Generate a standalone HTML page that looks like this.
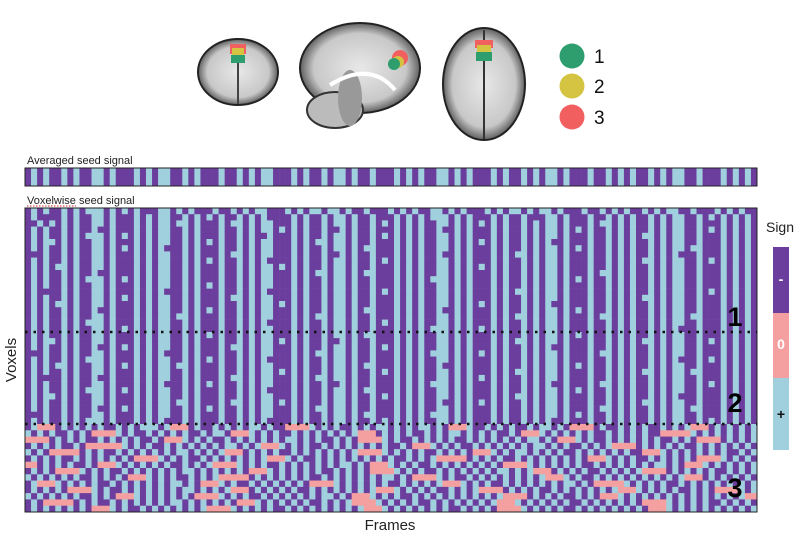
<!DOCTYPE html>
<html><head><meta charset="utf-8"><style>
body{margin:0;background:#fff;width:801px;height:540px;overflow:hidden;font-family:"Liberation Sans",sans-serif}
svg{position:absolute;left:0;top:0}
</style></head><body>
<svg id="fig" width="801" height="540">
<defs>
<radialGradient id="brainG" cx="50%" cy="50%" r="55%"><stop offset="0" stop-color="#e8e8e8"/><stop offset="0.7" stop-color="#c8c8c8"/><stop offset="1" stop-color="#333"/></radialGradient>
</defs>
<g>
<ellipse cx="238" cy="72" rx="40" ry="33" fill="url(#brainG)" stroke="#222" stroke-width="2"/>
<line x1="238" y1="45" x2="238" y2="104" stroke="#444" stroke-width="2"/>
<rect x="230" y="44" width="16" height="10" fill="#f25f5f"/><rect x="232" y="48" width="12" height="8" fill="#d4c442"/><rect x="231" y="55" width="14" height="8" fill="#2e9e6e"/>
</g>
<g>
<ellipse cx="360" cy="68" rx="60" ry="45" fill="url(#brainG)" stroke="#222" stroke-width="2"/>
<ellipse cx="335" cy="110" rx="28" ry="18" fill="#bbb" stroke="#333" stroke-width="2"/>
<ellipse cx="350" cy="98" rx="12" ry="28" fill="#999"/>
<path d="M330,85 Q370,60 395,90" stroke="#fff" stroke-width="4" fill="none"/>
<circle cx="400" cy="58" r="8" fill="#f25f5f"/><circle cx="398" cy="62" r="6" fill="#d4c442"/><circle cx="394" cy="64" r="6" fill="#2e9e6e"/>
</g>
<g>
<ellipse cx="484" cy="84" rx="41" ry="56" fill="url(#brainG)" stroke="#222" stroke-width="2"/>
<line x1="484" y1="30" x2="484" y2="139" stroke="#333" stroke-width="2"/>
<rect x="475" y="40" width="18" height="8" fill="#f25f5f"/><rect x="477" y="45" width="14" height="7" fill="#d4c442"/><rect x="476" y="52" width="16" height="9" fill="#2e9e6e"/>
</g>
<g>
<circle cx="572" cy="56" r="12.5" fill="#2e9e6e"/>
<text x="594" y="63" font-size="19" fill="#111">1</text>
<circle cx="572" cy="86" r="12.5" fill="#d4c442"/>
<text x="594" y="93" font-size="19" fill="#111">2</text>
<circle cx="572" cy="117" r="12.5" fill="#f25f5f"/>
<text x="594" y="124" font-size="19" fill="#111">3</text>
</g>
<text x="27" y="164" font-size="11" fill="#222">Averaged seed signal</text>
<g id="avg"></g>
<rect x="25" y="168" width="732" height="18" fill="none" stroke="#222" stroke-width="1"/>
<text x="27" y="204" font-size="11" fill="#222">Voxelwise seed signal</text>
<line x1="27" y1="206" x2="76" y2="206" stroke="#d22" stroke-width="1" stroke-dasharray="1.5,1.5"/>
<g id="heat"></g>
<rect x="25" y="208" width="732" height="304" fill="none" stroke="#222" stroke-width="1"/>
<line x1="25" y1="332" x2="757" y2="332" stroke="#111" stroke-width="2.5" stroke-dasharray="2.5,6"/>
<line x1="25" y1="424" x2="757" y2="424" stroke="#111" stroke-width="2.5" stroke-dasharray="2.5,6"/>
<text x="735" y="326" font-size="27" font-weight="bold" text-anchor="middle" fill="#000">1</text>
<text x="735" y="412" font-size="27" font-weight="bold" text-anchor="middle" fill="#000">2</text>
<text x="735" y="497" font-size="27" font-weight="bold" text-anchor="middle" fill="#000">3</text>
<text x="16" y="360" font-size="15" text-anchor="middle" transform="rotate(-90 16 360)" fill="#222">Voxels</text>
<text x="390" y="530" font-size="15" text-anchor="middle" fill="#222">Frames</text>
<g>
<text x="780" y="232" font-size="14" text-anchor="middle" fill="#222">Sign</text>
<rect x="773" y="247" width="16" height="66" fill="#6b3e9e"/>
<rect x="773" y="313" width="16" height="65" fill="#f4a0a0"/>
<rect x="773" y="378" width="16" height="72" fill="#a0d0de"/>
<text x="781" y="284" font-size="14" font-weight="bold" text-anchor="middle" fill="#fff">-</text>
<text x="781" y="349" font-size="14" font-weight="bold" text-anchor="middle" fill="#fff">0</text>
<text x="781" y="419" font-size="14" font-weight="bold" text-anchor="middle" fill="#111">+</text>
</g>
</svg>
<script>
const avgSignal = "-+-+--+-+--++-+---+-+-++--+-+---+--+-+-++---+-+--+-++-+--+---+-+-+--++-+-+---+-+--+-+-++-+---+--+-+-+--+-+-++--+---+-+-+-";
const region1Rows = [
"-+-+--+-+-+++-+-+-+---++-+-+---+--+-+-++---+-+-++-++-+--+---+-+-+--++-+-+---+-+-++-+-++-+---+--+-+-+--+-+-++--+---+-+-+-",
"-+----+-+--++-+---+-+-++--+-+-+-+--+-+-+----+-+--+-++-+--+---+-+-+-+++-+-+---+-+--+---++-+---+--+-+-+--+-+-++--+-+-+-+-+-",
"--+-+-+-+--++-+---+-+-++-++-+---+-++-+-++---+-+--+-++-+--+-+-+-+-+--++-+-+-+-+-+--+-+-++-+---+-++-+-+--+-+-++--+---+-+-+-",
"-+-+--+-+--+--+---+-+-++--+-+---+--+-+-++-+-+-+--+--+-+--+---+-+-+--+--+-+---+-+--+-+-++-+-+-+--+-+-+--+-+-++--+-+-+-+-+-",
"-+-+--+-+-+++-+-+-+-+-++--+-+---+--+-+--+---+-+--+-++-+--+-+-+-+-+--++-+-+---+-+--+-+-++-+---+--+-+-+-++-+-++--+---+-+-+-",
"-+-++-+-+--++-+---+-+-++--+-+-+-+--+-+-++---+-+-++-++-+--+---+-+-+--++-+-+-+-+-+--+-+-+--+---+--+-+-+--+-+-++--+---+-+-+-",
"-+-+--+-+--++-+-+-+-+-+---+-+---+--+-+-++---+-+--+-++-+-++---+-+-+--++-+-+---+-+--+-+-++-+-+-+--+-+-+--+-+-++-++---+-+-+-",
"---+--+-+--++-+---+-+-++--+-+---+-++-+-++---+-+--+--+-+--+---+-+-+--+--+-+---+-+-++-+-++-+---+--+-+-+--+-+-+---+---+-+-+-",
"-+-+--+-+--++-+---+-+-++--+-+-+-+--+-+-+----+-+--+-++-+--+-+-+-+-+--++-+-+---+-+--+-+-++-+---+--+-+-+-++-+-++--+-+-+-+-+-",
"-+-+-++-+--++-+---+-+-++--+-+---+--+-+-++-+-+-+--+-++-+--+---+-+-+--++-+-+-+-+-+--+-+-++-+---+--+-+-+--+-+-++--+---+-+-+-",
"-+-+--+-+--+--+---+-+-++--+-+---+--+-+-++---+-+-++-++-+-++---+-+-+--++-+-+---+-+--+-+-++-+---+-++-+-+--+-+-++--+---+-+-+-",
"-+-+--+-+-+++-+-+-+-+-++--+-+---+--+-+-++---+-+--+-++-+--+---+-+-+-+++-+-+---+-+--+-+-++-+-+-+--+-+-+--+-+-++--+---+-+-+-",
"-+-+--+-+--++-+---+-+-++--+-+-+-+--+-+-++---+-+--+-++-+--+---+-+-+--++-+-+---+-+--+-+-++-+---+--+-+-+--+-+-++--+---+-+-+-",
"-+----+-+--++-+---+-+-+---+-+---+--+-+-+----+-+--+-++-+--+-+-+-+-+--++-+-+---+-+-++-+-++-+---+--+-+-+--+-+-++--+-+-+-+-+-",
"-+-+--+-+--++-+-+-+-+-++--+-+---+-++-+-++---+-+--+-++-+--+---+-+-+--++-+-+---+-+--+-+-++-+---+--+-+-+-++-+-++--+---+-+-+-",
"-+-+-++-+--++-+---+-+-++--+-+---+--+-+-++-+-+-+--+-++-+--+---+-+-+--++-+-+-+-+-+--+-+-+--+---+--+-+-+--+-+-++--+---+-+-+-",
"-+-+--+-+--+--+---+-+-++--+-+-+-+--+-+-++---+-+--+-++-+-++---+-+-+--+--+-+---+-+--+-+-++-+-+-+--+-+-+--+-+-++--+---+-+-+-",
"-+-+--+-+--++-+---+-+-++-++-+---+--+-+-++---+-+-++-++-+--+---+-+-+--++-+-+---+-+-++-+-++-+---+-++-+-+--+-+-++-++---+-+-+-",
"-+-+--+-+-+++-+---+-+-++--+-+---+--+-+-+----+-+--+-++-+--+-+-+-+-+--++-+-+---+-+--+-+-++-+---+--+-+-+--+-+-++--+---+-+-+-",
"-+-+--+-+--++-+-+-+-+-++--+-+---+--+-+-++---+-+--+-++-+--+---+-+-+-+++-+-+-+-+-+--+-+-++-+---+--+-+-+--+-+-+---+---+-+-+-"
];
const region2Rows = [
"-+-+--+-+--++-+---+-+-++--+-+-+-+--+-+-++---+-+--+-++-+-++---+-+-+--++-+-+---+-+--+-+-++-+-+-+--+-+-+--+-+-++--+---+-+-+-",
"-+-++-+-+--++-+---+-+-++--+-+---+--+-+-++-+-+-+--+--+-+--+---+-+-+--++-+-+---+-+-++-+-++-+---+--+-+-+-++-+-++--+-+-+-+-+-",
"-+-+--+-+--+--+-+-+-+-++--+-+---+-++-+-++---+-+--+-++-+--+-+-+-+-+--++-+-+---+-+--+-+-+--+---+--+-+-+--+-+-++--+---+-+-+-",
"---+--+-+--++-+---+-+-+---+-+---+--+-+-++---+-+-++-++-+--+---+-+-+-+++-+-+-+-+-+--+-+-++-+---+-++-+-+--+-+-++--+---+-+-+-",
"-+-+--+-+-+++-+---+-+-++--+-+-+-+--+-+-+----+-+--+-++-+--+---+-+-+--++-+-+---+-+--+-+-++-+---+--+-+-+--+-+-+---+-+-+-+-+-",
"-+-+-++-+--++-+-+-+-+-++-++-+---+--+-+-++---+-+--+-++-+-++---+-+-+--+--+-+---+-+--+-+-++-+-+-+--+-+-+--+-+-++--+---+-+-+-",
"-+-+--+-+--++-+---+-+-++--+-+---+--+-+-++-+-+-+--+-++-+--+-+-+-+-+--++-+-+---+-+-++-+-++-+---+--+-+-+-++-+-++-++---+-+-+-",
"-+----+-+--+--+---+-+-++--+-+---+-++-+-++---+-+-++-++-+--+---+-+-+--++-+-+-+-+-+--+-+-++-+---+--+-+-+--+-+-++--+---+-+-+-",
"-+-+--+-+--++-+---+-+-+---+-+-+-+--+-+-++---+-+--+--+-+--+---+-+-+-+++-+-+---+-+--+-+-+--+---+-++-+-+--+-+-++--+-+-+-+-+-",
"-+-+--+-+-+++-+-+-+-+-++--+-+---+--+-+-+----+-+--+-++-+-++---+-+-+--++-+-+---+-+--+-+-++-+-+-+--+-+-+--+-+-++--+---+-+-+-",
"-+-++-+-+--++-+---+-+-++--+-+---+--+-+-++---+-+--+-++-+--+-+-+-+-+--++-+-+---+-+-++-+-++-+---+--+-+-+--+-+-+---+---+-+-+-",
"-+-+--+-+--++-+---+-+-++-++-+---+-++-+-++-+-+-+--+-++-+--+---+-+-+--+--+-+-+-+-+--+-+-++-+---+--+-+-+-++-+-++--+---+-+-+-",
"-+-+--+-+--+--+-+-+-+-++--+-+-+-+--+-+-++---+-+-++-++-+--+---+-+-+--++-+-+---+-+--+-+-++-+---+-++-+-+--+-+-++-++---+-+-+-",
"---+--+-+--++-+---+-+-++--+-+---+--+-+-++---+-+--+-++-+-++---+-+-+-+++-+-+---+-+--+-+-++-+-+-+--+-+-+--+-+-++--+---+-+-+-",
"-+-+--+-+-+++-+---+-+-+---+-+---+--+-+-+----+-+--+-++-+--+-+-+-+-+--++-+-+---+-+--+-+-+--+---+--+-+-+--+-+-++--+-+-+-+-+-"
];
const region3Rows = [
"-+000-+-+-+-+--+-+-+++-+000-+--+-+-+-++-+--0000+-+-+--+-+-++-+-+-++-+-000+--+-+-+--+-++-+-0000-+--+-+-+--+-+-+000-+-+-+-+",
"+-+-+--+-+-0000+-+--+-+-+-+--+-++-000+-+-+--+-+-+-+-+-+000-+-+-+--+-+-++-+-+-+--+-000+-+-+-+-+--+-+-+-+--00000+-+-+-+-+-+-",
"0000-+-+-+--+-+-+-+--+-000+-+-+--+-+-+-+-+-++-+-+--+-+-0000+-+--+-+-+-+--+-+-+-+-+-++-+-000+-+--+-+-+-+-+--+-+-0000-+-+-+",
"-+-+-+--+-000000+-+-+--+-+-+-+-+-++-+-+000+-+-+--+-+-+-+-+-+--+-000+-+-+--+-+-+-+-+-++-+-+--+-+-+0000-+-+-+-+--+-+-+-+-+-+",
"+-+-00000-+-+--+-+-+-+-+-++-+-+-+000-+-+-+--+-+-+-+-+-+0000+-+-+-+--+-+-+-000+-+-++-+-+-+--+-+-+-+-+--000+-+-+-+-+-+--+-+-",
"-+-+-+--+-+-+-+-+-0000+-+-+--+-+-+-+-+-+000+-+--+-+-+-+-+-+-+--+-+-+00000-+-+-+--+-+-+-+-+-+-000+-+-+--+-+-+-+-0000+-+-+-",
"00-+-+-+--+-000+-+-+-+-+--+-+-+0000+-+-+--+-+-+-+-+-++-+-000+-+-+--+-+-+-+-+-+-0000+-+-+-+-+--+-+-+-+-+-++-+-000+-+-+-+-+",
"-+-+-0000+-+-+--+-+-+-+-+-++-+-+-+-+-000+-+-+-+-+--+-+-+-0000+-+-+--+-+-+-+-+-++-+-+000-+-+-+--+-+-+-+0000-+-+-+-+--+-+-+",
"+-+-+-+-+--+-+-+-000+-+-+--+-+-+00000-+-+-+-+-+--+-+-+-+-+-++-+-0000+-+--+-+-+-+-+-+-+000+-+--+-+-+-+-+-+-+-+000-+-+-+-+-",
"-+000+-+-+-+--+-+-+-+-+-++-+-000+-+--+-+-+-+-+-0000+-+-+-+-+--+-+-+-+000+-+-+--+-+-+-+-+-++-+-00000+-+-+-+--+-+-+-+-+-+-+",
"-+-+-+-0000+-+--+-+-+-+-+-++-+-+-+000-+-+-+-+--+-+-+-+-+-+000+-+-+-+--+-+-+0000-+-+-+--+-+-+-+-+-+000+-+-+-+--+-+-0000+-+-",
"+-+-+-+-+--+-+-000+-+-+-+-+-0000+-+-+--+-+-+-+-+-++-+-000+-+-+--+-+-+-+-+-+-+-+0000-+-+-+--+-+-000+-+-+-+-+-+-+-+-+-+-+000",
"-+-00000-+-+--+-+-+-+-+-++-+-+-+-+-000+-+-+-+-+--+-+-+0000+-+-+-+--+-+-+-+-+-+000+-+-+-+-+--+-+-+-+-+-0000+-+-+-+--+-+-+-+",
"-+-+-+-+-+-000+-+--+-+-+-+-+-+0000+-+-+-+--+-+-+-+-+-+-+000+-+-+-+-+-+--+-+-+-0000+-+-+-+--+-+-+-+-+-+-000+-+-+-+-+-+-+-+-"
];
const colorOf = {'-':'#6b3e9e','+':'#a0d0de','0':'#f4a0a0'};
const NS='http://www.w3.org/2000/svg';
const X0=25, W=732;
const nCols = avgSignal.length;
function xScale(i){return X0 + i*W/nCols;}
function cellChar(row,i){return row[i] || '-';}
const avgG=document.getElementById('avg');
for(let i=0;i<nCols;i++){
  const r=document.createElementNS(NS,'rect');
  r.setAttribute('x',xScale(i));r.setAttribute('y',168);
  r.setAttribute('width',W/nCols+0.3);r.setAttribute('height',18);
  r.setAttribute('fill',colorOf[avgSignal[i]]);
  
  
  avgG.appendChild(r);
}
const heat=document.getElementById('heat');
function drawRegion(rows,y0,y1,name){
  const h=(y1-y0)/rows.length;
  rows.forEach((row,j)=>{
    for(let i=0;i<nCols;i++){
      const r=document.createElementNS(NS,'rect');
      r.setAttribute('x',xScale(i));r.setAttribute('y',y0+j*h);
      r.setAttribute('width',W/nCols+0.3);r.setAttribute('height',h+0.3);
      r.setAttribute('fill',colorOf[cellChar(row,i)]);
      
      
      heat.appendChild(r);
    }
  });
}
drawRegion(region1Rows,208,332,'heatmap-cell-region-1');
drawRegion(region2Rows,332,424,'heatmap-cell-region-2');
drawRegion(region3Rows,424,512,'heatmap-cell-region-3');
</script>
</body></html>
